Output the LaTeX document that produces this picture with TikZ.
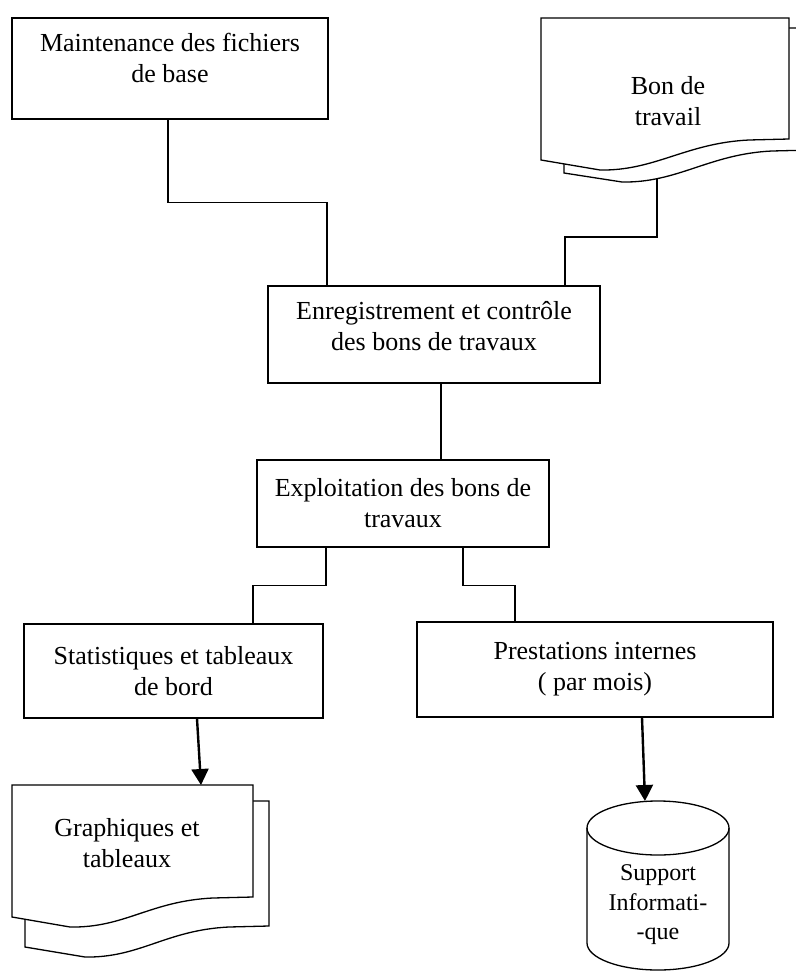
\documentclass[tikz,border=0pt]{standalone}
\usepackage{fontspec}
\setmainfont{Liberation Serif}
\usetikzlibrary{arrows.meta}

\begin{document}
\begin{tikzpicture}[x=1pt,y=-1pt,
		box/.style={draw,line width=1.3pt,align=center,inner sep=0pt},
		page/.style={draw,line width=1.3pt,fill=white},
		link/.style={line width=1.3pt},
		fleche/.style={line width=2.4pt,-{Triangle[width=17pt,length=16pt]}},
		font=\fontsize{26}{31}\selectfont]
	\useasboundingbox (0,0) rectangle (795,971);
	\node[box,minimum width=316pt,minimum height=101pt,text depth=21pt] (maint) at (170,68.5) {Maintenance des fichiers\\de base};
	\node[box,minimum width=332pt,minimum height=97pt,text depth=18pt] (enreg) at (434,334.5) {Enregistrement et contrôle\\des bons de travaux};
	\node[box,minimum width=292pt,minimum height=87pt] (exploit) at (403,503.5) {Exploitation des bons de\\travaux};
	\node[box,minimum width=299pt,minimum height=94pt] (stat) at (173.5,671) {Statistiques et tableaux\\de bord};
	\node[box,minimum width=356pt,minimum height=95pt] (prest) at (595,669.5) {Prestations internes\\( par mois)};
	\coordinate (bonbas) at (657,172);
	\coordinate (graphhaut) at (201,785);
	\coordinate (supphaut) at (645,801);
	\draw[link] ([xshift=-2pt]maint.south) -- ++(0,83) -| ([xshift=-107pt]enreg.north);
	\draw[link] (bonbas) -- ++(0,65) -| ([xshift=131pt]enreg.north);
	\draw[link] ([xshift=7pt]enreg.south) -- ([xshift=7pt]enreg.south |- exploit.north);
	\draw[link] ([xshift=-77pt]exploit.south) -- ++(0,38) -| ([xshift=79.5pt]stat.north);
	\draw[link] ([xshift=60pt]exploit.south) -- ++(0,38) -| ([xshift=-80pt]prest.north);
	\draw[page] (564,28) -- (812,28) -- (812,150) -- (772,151) .. controls (709,154) and (678,183) .. (622,182) -- (564,173) -- cycle;
	\draw[page] (541,18) -- (789,18) -- (789,139) -- (749,140) .. controls (686,143) and (655,171) .. (600,170) -- (541,160) -- cycle;
	\node[align=center] (bon) at (668,101) {Bon de\\travail};
	\draw[page] (25,801) -- (269,801) -- (269,926) -- (229,927) .. controls (166,930) and (140,958) .. (85,957) -- (25,947) -- cycle;
	\draw[page] (12,785) -- (253,785) -- (253,897) -- (213,898) .. controls (150,901) and (125,928) .. (70,927) -- (12,917) -- cycle;
	\node[align=center] (graph) at (127,843) {Graphiques et\\tableaux};
	\draw[page] (587,828) -- (587,943) arc (180:0:71 and 27) -- (729,828) arc (360:180:71 and 27) -- cycle;
	\draw[link] (587,828) arc (180:0:71 and 27);
	\node[align=center,font=\fontsize{24}{29.5}\selectfont] (supp) at (658,905) {Support\\Informati-\\-que};
	\draw[fleche] ([xshift=23.5pt]stat.south) -- (graphhaut);
	\draw[fleche] ([xshift=47pt]prest.south) -- (supphaut);
\end{tikzpicture}
\end{document}
